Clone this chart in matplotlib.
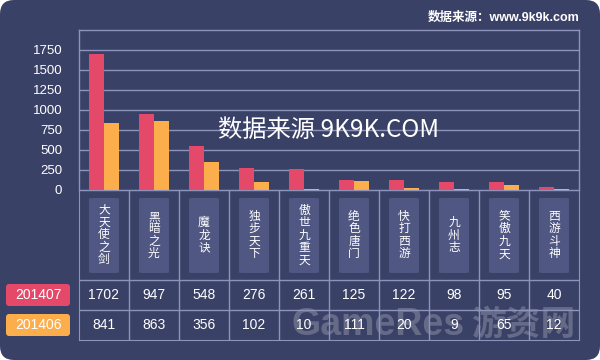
"""Recreate the 9k9k monthly chart: grouped bars with a data table underneath."""

import matplotlib.pyplot as plt
from matplotlib.patches import FancyBboxPatch

plt.rcParams["font.family"] = ["Liberation Sans", "Noto Sans CJK SC", "DejaVu Sans"]

games = ["大天使之剑", "黑暗之光", "魔龙诀", "独步天下", "傲世九重天",
         "绝色唐门", "快打西游", "九州志", "笑傲九天", "西游斗神"]
series_names = ["201407", "201406"]
values_201407 = [1702, 947, 548, 276, 261, 125, 122, 98, 95, 40]
values_201406 = [841, 863, 356, 102, 10, 111, 20, 9, 65, 12]
y_ticks = [0, 250, 500, 750, 1000, 1250, 1500, 1750]

BG = "#3a4166"
BOX = "#4f5782"
LINE = "#8d93bb"
RED = "#e4496a"
ORANGE = "#fcae4d"
W, H = 600, 360


def fig_rect(x0, y0, x1, y1):
    """Convert pixel box (top-left origin) to figure fractions."""
    return [x0 / W, 1 - y1 / H, (x1 - x0) / W, (y1 - y0) / H]


fig = plt.figure(figsize=(6, 3.6), dpi=100, facecolor="white")

# background panel in pixel coordinates
bg = fig.add_axes([0, 0, 1, 1])
bg.set_xlim(0, W)
bg.set_ylim(H, 0)
bg.axis("off")
bg.add_patch(FancyBboxPatch((0, 0), W, H, boxstyle="round,pad=0,rounding_size=14",
                            facecolor=BG, edgecolor="none"))
bg.text(580, 18, "数据来源：www.9k9k.com", color="white", fontsize=9,
        ha="right", va="center", fontweight="bold")

# bars
ax = fig.add_axes(fig_rect(79, 30, 579, 190))
ax.set_facecolor("none")
x = list(range(len(games)))
bw = 0.3
ax.bar([i - bw / 2 for i in x], values_201407, bw, color=RED, zorder=3)
ax.bar([i + bw / 2 for i in x], values_201406, bw, color=ORANGE, zorder=3)
ax.set_xlim(-0.5, len(games) - 0.5)
ax.set_ylim(0, 2000)
ax.set_yticks(y_ticks)
ax.set_yticklabels([str(t) for t in y_ticks], color="white", fontsize=9.5)
ax.tick_params(axis="y", length=0, pad=12)
ax.set_xticks([])
ax.grid(axis="y", color=LINE, linewidth=1, zorder=1)
for s in ax.spines.values():
    s.set_color(LINE)
    s.set_linewidth(1)
ax.spines["bottom"].set_visible(False)
ax.text(0.5, 0.375, "数据来源 9K9K.COM", transform=ax.transAxes, color="white",
        fontsize=17.5, ha="center", va="center", zorder=5,
        family=["Noto Sans CJK SC", "DejaVu Sans"])

# table below the bars
tb = fig.add_axes(fig_rect(79, 190, 579, 340))
tb.set_facecolor("none")
tb.set_xlim(-0.5, len(games) - 0.5)
tb.set_ylim(150, 0)
tb.set_xticks([])
tb.set_yticks([])
for s in tb.spines.values():
    s.set_color(LINE)
for i in range(1, len(games)):
    tb.axvline(i - 0.5, color=LINE, linewidth=1)
tb.axhline(90, color=LINE, linewidth=1)
tb.axhline(120, color=LINE, linewidth=1)
tb.axhline(0, color=LINE, linewidth=1)

for i, name in enumerate(games):
    tb.add_patch(FancyBboxPatch((i - 0.3, 8), 0.6, 75,
                                boxstyle="round,pad=0,rounding_size=0.08",
                                mutation_aspect=10, facecolor=BOX, edgecolor="none"))
    tb.text(i, 45, "\n".join(name), color="white", fontsize=8.5, ha="center",
            va="center", linespacing=0.95, family=["Noto Sans CJK SC"])
    tb.text(i, 105, str(values_201407[i]), color="white", fontsize=10,
            ha="center", va="center")
    tb.text(i, 135, str(values_201406[i]), color="white", fontsize=10,
            ha="center", va="center")

# series badges on the left
for (name, color, y0) in zip(series_names, [RED, ORANGE], [284, 314]):
    bg.add_patch(FancyBboxPatch((6, y0), 64, 22, boxstyle="round,pad=0,rounding_size=3",
                                facecolor=color, edgecolor="none"))
    bg.text(38, y0 + 11, name, color="white", fontsize=10, ha="center", va="center")

# faint site watermark (sits over the table, as in the source image)
bg.text(378, 325, "GameRes", color="white", alpha=0.22, fontsize=27,
        fontweight="bold", ha="center", va="center", zorder=10)
bg.text(523, 324, "游资网", color="white", alpha=0.22, fontsize=25,
        fontweight="bold", ha="center", va="center", zorder=10,
        family=["Noto Sans CJK SC"])

fig.savefig("out.png", dpi=100, facecolor="white")
